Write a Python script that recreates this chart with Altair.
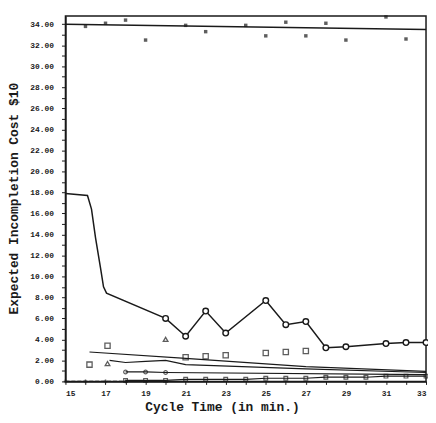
import altair as alt
import pandas as pd

# ---- data ----
# main curve (cost vs cycle time)
main_x = [15.0, 16.1, 16.3, 16.5, 16.75, 16.9, 17.05, 20.0, 21.0, 22.0, 23.0, 25.0, 26.0, 27.0, 28.0, 29.0, 31.0, 32.0, 33.0]
main_y = [17.9, 17.7, 16.4, 13.7, 10.8, 9.0, 8.4, 6.0, 4.3, 6.7, 4.6, 7.7, 5.4, 5.7, 3.2, 3.3, 3.6, 3.7, 3.7]
main_mark = [0, 0, 0, 0, 0, 0, 0, 1, 1, 1, 1, 1, 1, 1, 1, 1, 1, 1, 1]

# top fitted line and scattered observations
top_line_x = [15.0, 33.0]
top_line_y = [34.0, 33.5]
top_pts_x = [16, 17, 18, 19, 21, 22, 24, 25, 26, 27, 28, 29, 31, 32]
top_pts_y = [33.8, 34.1, 34.4, 32.5, 33.9, 33.3, 33.9, 32.9, 34.2, 32.9, 34.1, 32.5, 34.7, 32.6]

# lower declining lines
l1_x = [16.2, 21.0, 27.0, 33.0]
l1_y = [2.8, 2.2, 1.4, 0.95]
l2_x = [17.2, 18.0, 19.0, 20.0, 21.0, 27.0, 33.0]
l2_y = [2.0, 1.8, 1.9, 2.0, 1.6, 1.2, 0.85]
l3_x = [18.0, 19.0, 20.0, 33.0]
l3_y = [0.9, 0.9, 0.85, 0.65]
d_x = [18, 19, 20, 21, 22, 23, 24, 25, 26, 27, 28, 29, 30, 31, 32, 33]
d_y = [0.1, 0.1, 0.1, 0.2, 0.2, 0.2, 0.2, 0.3, 0.3, 0.3, 0.4, 0.4, 0.4, 0.5, 0.5, 0.5]
e_x = [15, 16, 17, 18]
e_y = [0.0, 0.0, 0.0, 0.0]

# isolated markers
sq_x = [17.1, 16.2, 21.0, 22.0, 23.0, 25.0, 26.0, 27.0]
sq_y = [3.4, 1.6, 2.3, 2.4, 2.5, 2.7, 2.8, 2.9]
tri_x = [17.1, 20.0]
tri_y = [1.7, 4.0]

y_ticks = list(range(0, 35))
x_ticks = list(range(15, 34))

INK = "#1a1a1a"
FONT = "Liberation Mono"

xs = alt.Scale(domain=[15, 33], nice=False, zero=False)
ys = alt.Scale(domain=[0, 34.8], nice=False)

x_axis = alt.Axis(
    values=x_ticks,
    labelExpr="datum.value % 2 == 1 ? format(datum.value, 'd') : ''",
    title="Cycle Time (in min.)",
    titleX=158, titleY=25, titleBaseline="middle", titleAlign="center",
    titleFont=FONT, titleFontSize=13, titleFontWeight="bold", titleColor=INK,
    labelFont=FONT, labelFontSize=8, labelFontWeight="bold", labelColor=INK,
    tickSize=3, tickColor=INK, domainColor=INK, domainWidth=1.5, grid=False,
    labelPadding=5,
)
y_axis = alt.Axis(
    values=y_ticks,
    labelExpr="datum.value % 2 == 0 ? format(datum.value, '.2f') : ''",
    title="Expected Incompletion Cost $10",
    titleX=-52, titleY=184, titleAngle=-90, titleBaseline="middle", titleAlign="center",
    titleFont=FONT, titleFontSize=13, titleFontWeight="bold", titleColor=INK,
    labelFont=FONT, labelFontSize=8, labelFontWeight="bold", labelColor=INK,
    tickSize=4, tickColor=INK, domainColor=INK, domainWidth=1.5, grid=False,
    labelPadding=8,
)


def enc(ch):
    return ch.encode(
        x=alt.X("x:Q", scale=xs, axis=x_axis),
        y=alt.Y("y:Q", scale=ys, axis=y_axis),
    )


def df(xv, yv):
    return pd.DataFrame({"x": xv, "y": yv})


main_df = pd.DataFrame({"x": main_x, "y": main_y, "m": main_mark})

layers = [
    enc(alt.Chart(df(top_line_x, top_line_y)).mark_line(color=INK, strokeWidth=1.4)),
    enc(alt.Chart(df(top_pts_x, top_pts_y)).mark_point(shape="square", filled=True, size=12, color=INK)),
    enc(alt.Chart(main_df).mark_line(color=INK, strokeWidth=1.5)),
    enc(alt.Chart(main_df).transform_filter("datum.m == 1").mark_point(
        shape="circle", filled=True, fill="white", stroke=INK, size=32, strokeWidth=1.4, opacity=1)),
    enc(alt.Chart(df(l1_x, l1_y)).mark_line(color=INK, strokeWidth=1.2)),
    enc(alt.Chart(df(l2_x, l2_y)).mark_line(color=INK, strokeWidth=1.2)),
    enc(alt.Chart(df(l3_x, l3_y)).mark_line(color=INK, strokeWidth=1.2)),
    enc(alt.Chart(df(l3_x[:3], l3_y[:3])).mark_point(shape="circle", filled=False, size=14, strokeWidth=1.2, color=INK)),
    enc(alt.Chart(df(d_x, d_y)).mark_line(color=INK, strokeWidth=1.2)),
    enc(alt.Chart(df(d_x, d_y)).mark_point(shape="square", filled=False, size=14, strokeWidth=1.2, color=INK)),
    enc(alt.Chart(df(e_x, e_y)).mark_line(color=INK, strokeWidth=1.2, strokeDash=[4, 2])),
    enc(alt.Chart(df(e_x, e_y)).mark_point(shape="cross", filled=True, size=14, color=INK)),
    enc(alt.Chart(df(sq_x, sq_y)).mark_point(shape="square", filled=False, size=28, strokeWidth=1.3, color=INK)),
    enc(alt.Chart(df(tri_x, tri_y)).mark_point(shape="triangle-up", filled=False, size=22, strokeWidth=1.3, color=INK)),
]

chart = alt.layer(*layers).properties(
    width=364,
    height=369,
    autosize=alt.AutoSizeParams(type="none"),
    padding={"left": 58, "top": 6, "right": 2, "bottom": 40},
    background="white",
).configure_view(stroke=INK, strokeWidth=1.5)

chart.save("out.html", embed_options={"renderer": "svg", "actions": False})
